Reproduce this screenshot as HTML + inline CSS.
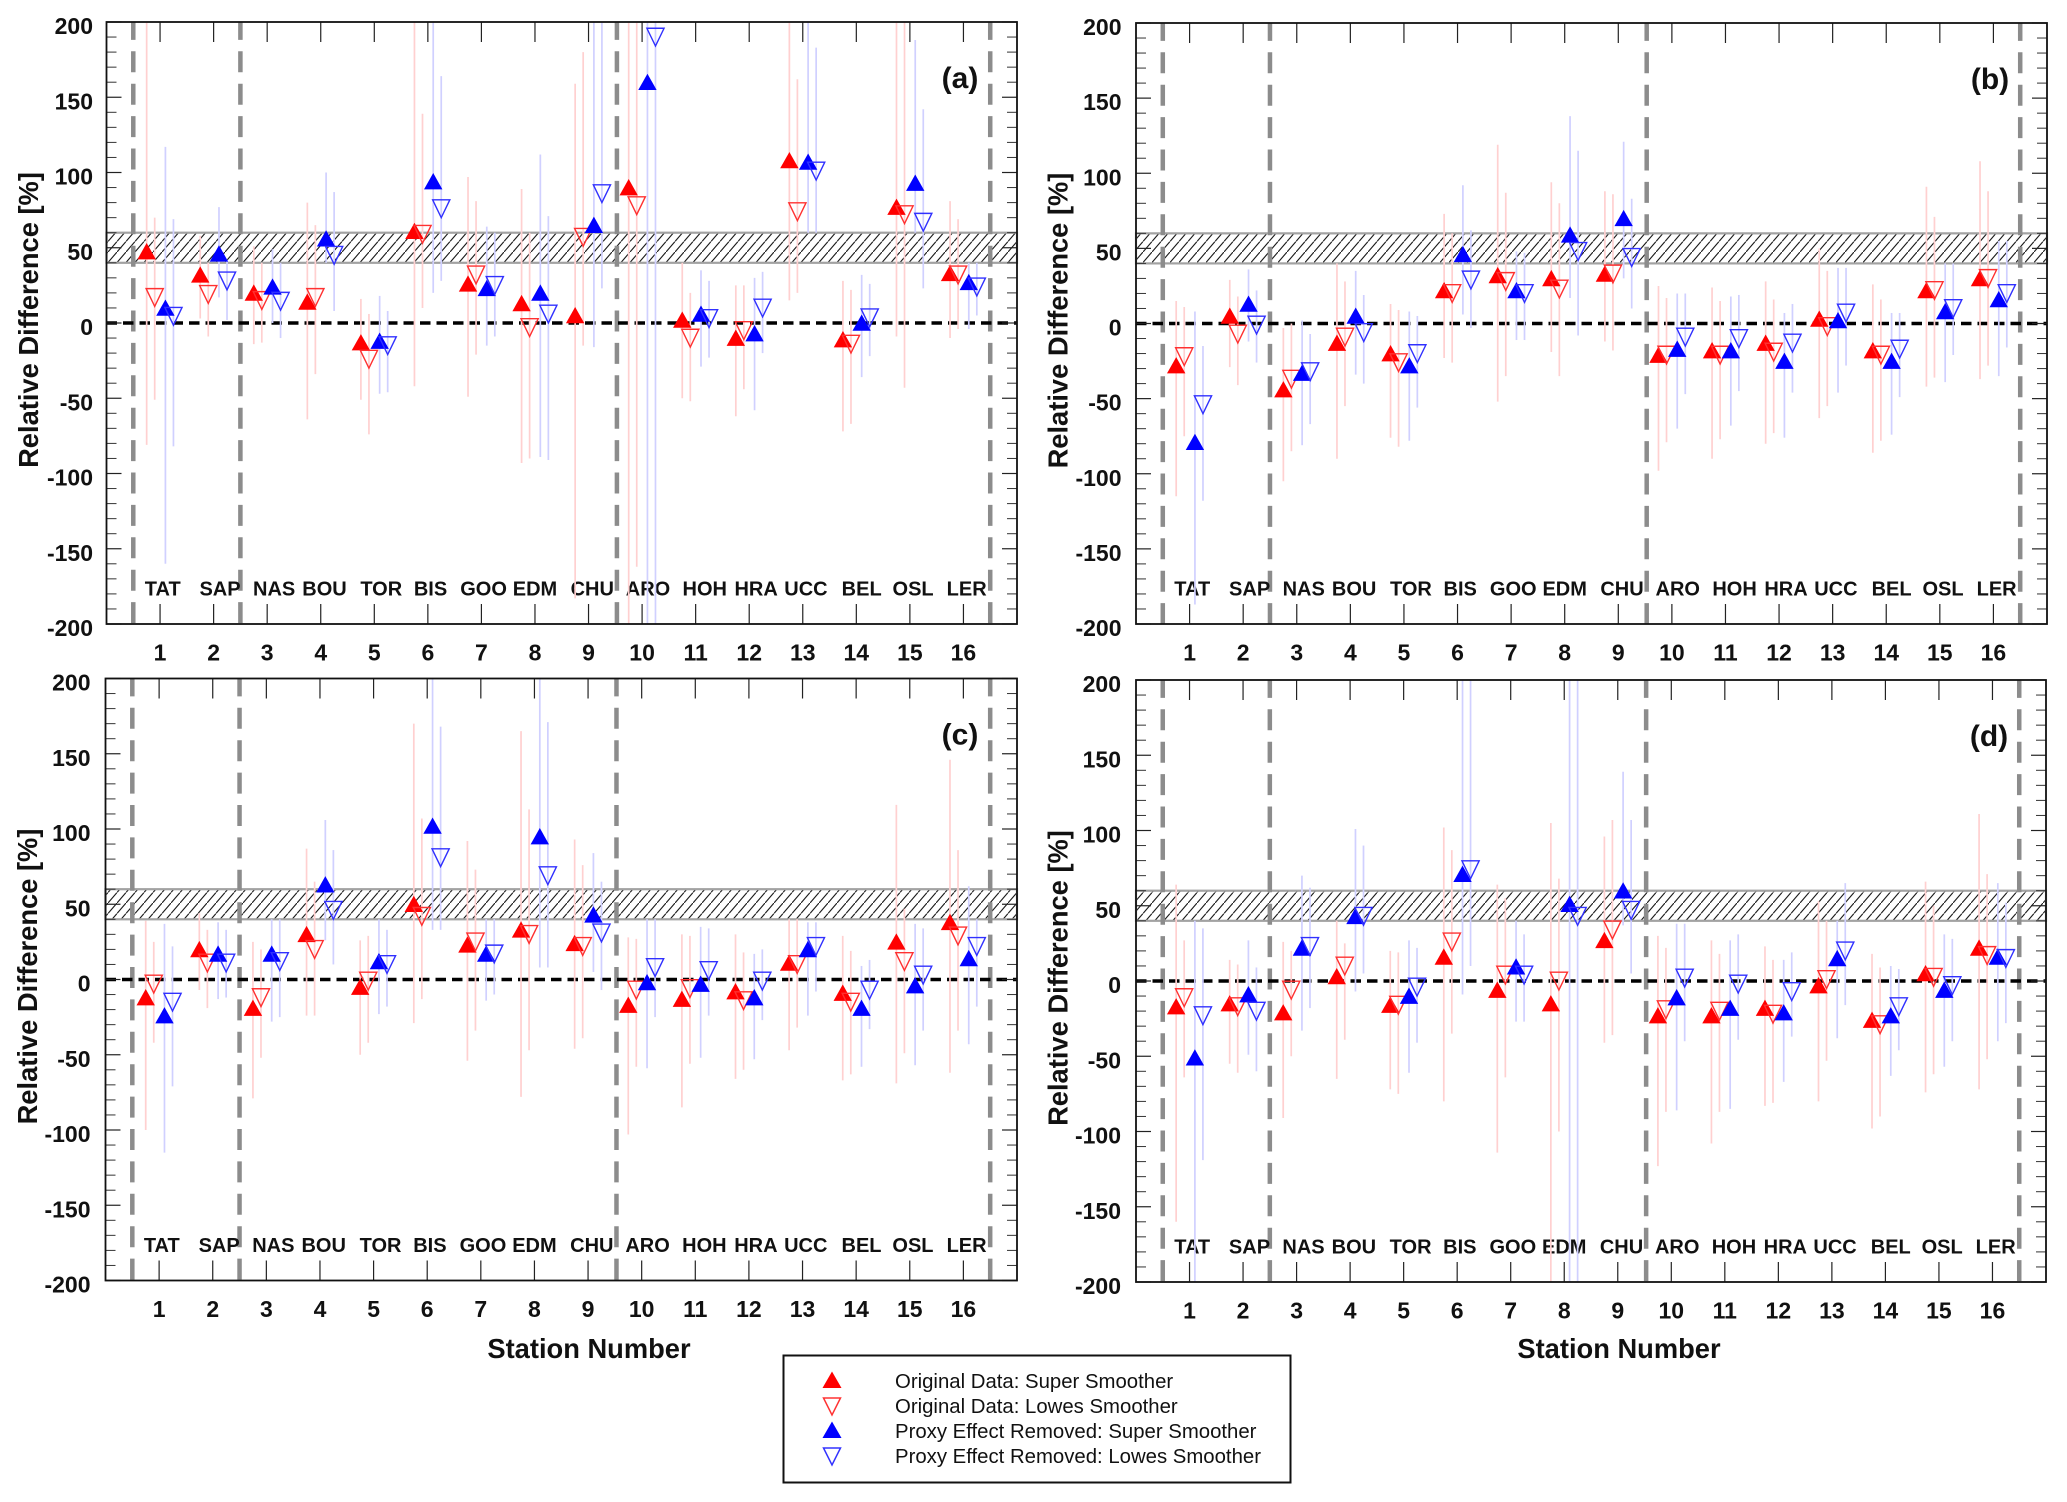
<!DOCTYPE html>
<html lang="en">
<head>
<meta charset="utf-8">
<title>Relative Difference by Station</title>
<style>
html,body{margin:0;padding:0;background:#fff;width:2067px;height:1502px;overflow:hidden}
svg{display:block;font-family:"Liberation Sans",Arial,sans-serif}
</style>
</head>
<body>
<svg id="fig" xmlns="http://www.w3.org/2000/svg" width="2067" height="1502" viewBox="0 0 2067 1502">
  <defs>
    <pattern id="hatch" patternUnits="userSpaceOnUse" width="9" height="10.5">
      <path d="M-1 11.67 L10 -1.17" stroke="#1a1a1a" stroke-width="1.1" fill="none"/>
    </pattern>
  </defs>
  <rect width="2067" height="1502" fill="#fff"/>
  <g id="charts"></g>
  <g>
    <text x="589" y="1358" text-anchor="middle" font-size="27.3" font-weight="bold" fill="#111">Station Number</text>
  </g>
  <g>
    <text x="1619" y="1358" text-anchor="middle" font-size="27.3" font-weight="bold" fill="#111">Station Number</text>
  </g>
  <g>
    <rect x="783.5" y="1355.5" width="507" height="127" fill="#fff" stroke="#111" stroke-width="2"/>
    <g>
      <path d="M832 1371.5 L841.5 1388 L822.5 1388 Z" fill="#ff0000"/>
      <text x="895" y="1388" font-size="20.35" fill="#111">Original Data: Super Smoother</text>
    </g>
    <g>
      <path d="M823.5 1398 L840.5 1398 L832 1415 Z" fill="none" stroke="#ff3333" stroke-width="1.5"/>
      <text x="895" y="1413" font-size="20.35" fill="#111">Original Data: Lowes Smoother</text>
    </g>
    <g>
      <path d="M832 1421.5 L841.5 1438 L822.5 1438 Z" fill="#0000ff"/>
      <text x="895" y="1438" font-size="20.35" fill="#111">Proxy Effect Removed: Super Smoother</text>
    </g>
    <g>
      <path d="M823.5 1448 L840.5 1448 L832 1465 Z" fill="none" stroke="#3333ff" stroke-width="1.5"/>
      <text x="895" y="1463" font-size="20.35" fill="#111">Proxy Effect Removed: Lowes Smoother</text>
    </g>
  </g>
</svg>
<script>
const stationNumbers = [1,2,3,4,5,6,7,8,9,10,11,12,13,14,15,16];
const stationCodes = ["TAT","SAP","NAS","BOU","TOR","BIS","GOO","EDM","CHU","ARO","HOH","HRA","UCC","BEL","OSL","LER"];
const stationCodeX = [1.05,2.12,3.13,4.07,5.13,6.05,7.04,8.0,9.07,10.11,11.17,12.13,13.06,14.1,15.06,16.06];
const yMajorTicks = [-200,-150,-100,-50,0,50,100,150,200];
const yMinorTicks = [-190,-180,-170,-160,-140,-130,-120,-110,-90,-80,-70,-60,-40,-30,-20,-10,10,20,30,40,60,70,80,90,110,120,130,140,160,170,180,190];
const groupBoundaries = [0.5,2.5,9.53,16.5];
const bandRange = [40,60];

/* panel a */
const aOrigSuper = [47.5,32,20,14,-13,61,26,13,5,90,2,-10,108,-11,77,33];
const aOrigSuperHi = [200,58,51,80,16,200,97,89,159,200,40,25,200,28,200,81];
const aOrigSuperLo = [-81,3,-14,-64,-51,-42,-49,-93,-183,-200,-50,-62,15,-72,-9,-10];
const aOrigLowes = [17,19,15,17,-24,59,32,-3,57,78,-10,-5,74,-14,72,32];
const aOrigLowesHi = [70,40,40,65,6,139,81,60,180,200,20,25,162,22,200,69];
const aOrigLowesLo = [-51,-9,-13,-34,-74,10,-21,-90,-15,-162,-52,-44,20,-67,-43,-4];
const aProxySuper = [10,46,24,56,-12,94,23,20,65,160,6,-7,107,0,93,27];
const aProxySuperHi = [117,77,49,100,18,200,64,112,200,200,35,30,200,32,188,40];
const aProxySuperLo = [-160,17,0,40,-47,20,-15,-89,-16,-200,-29,-58,60,-36,60,-4];
const aProxyLowes = [4.5,28,14.5,45,-15,76,25,6,86,190,3,10,101,3.5,67,24];
const aProxyLowesHi = [69,42,40,87,8,164,60,71,200,200,28,34,183,26,142,40];
const aProxyLowesLo = [-82,2,-10,8,-46,28,-9,-91,23,-200,-23,-20,60,-22,23,5];

/* panel b */
const bOrigSuper = [-28,5,-44,-13,-20,22,32,30,33,-21,-18,-13,3,-18,22,30];
const bOrigSuperHi = [15,29,-3,40,13,73,119,94,88,25,24,28,50,26,91,108];
const bOrigSuperLo = [-115,-29,-105,-90,-76,-23,-52,-19,-12,-98,-90,-80,-63,-86,-42,-37];
const bOrigLowes = [-22,-7,-37,-9,-26,20,28,23,33,-21,-21,-19,-2,-21,22,30];
const bOrigLowesHi = [11,18,0,28,9,60,87,80,86,17,15,16,35,16,71,88];
const bOrigLowesLo = [-75,-41,-85,-55,-82,-26,-35,-35,-18,-79,-77,-73,-55,-78,-36,-28];
const bProxySuper = [-79,13,-33,5,-28,46,22,59,70,-17,-18,-25,2,-25,8,16];
const bProxySuperHi = [8,36,2,35,8,92,48,138,121,20,18,7,37,7,40,55];
const bProxySuperLo = [-187,-12,-81,-34,-78,6,-11,17,30,-70,-68,-76,-46,-74,-39,-35];
const bProxyLowes = [-54,-1,-32,-6,-20,29,20,48,44,-9,-10,-13,7,-17,10,20];
const bProxyLowesHi = [-15,22,-7,19,5,62,47,115,83,20,19,13,37,7,40,55];
const bProxyLowesLo = [-118,-26,-67,-40,-56,-3,-11,-8,10,-47,-45,-46,-28,-49,-21,-16];

/* panel c */
const cOrigSuper = [-12,20,-19,30,-5,50,23,33,24,-17,-13,-8,11,-9,25,38];
const cOrigSuperHi = [39,44,25,87,26,170,92,165,93,28,30,30,40,29,116,146];
const cOrigSuperLo = [-100,-7,-79,-24,-50,-29,-54,-78,-46,-103,-85,-66,-47,-67,-69,-62];
const cOrigLowes = [-3,11,-12,20,-1,42,25,30,22,-7,-6,-14,10,-15,12,29];
const cOrigLowesHi = [25,33,20,65,29,107,73,113,76,27,29,18,40,19,47,86];
const cOrigLowesLo = [-42,-19,-52,-24,-42,-13,-34,-47,-39,-58,-56,-60,-32,-63,-49,-34];
const cProxySuper = [-24,17,17,63,12,102,17,95,43,-2,-3,-12,20,-19,-4,14];
const cProxySuperHi = [37,38,40,106,40,200,40,200,84,40,35,17,38,9,37,62];
const cProxySuperLo = [-115,-13,-28,26,-23,33,-14,8,5,-59,-52,-53,-24,-58,-57,-43];
const cProxyLowes = [-15,11,12,46,10,81,17,69,31,8,6,-1,22,-7,3,22];
const cProxyLowesHi = [22,33,40,86,33,168,40,171,65,40,34,20,38,13,34,40];
const cProxyLowesLo = [-71,-12,-25,10,-18,33,-10,8,-7,-25,-24,-27,-8,-33,-34,-18];

/* panel d */
const dOrigSuper = [-17,-15,-21,3,-16,16,-6,-15,27,-23,-23,-18,-3,-26,5,22];
const dOrigSuperHi = [64,14,26,40,20,102,64,105,96,30,27,23,53,18,66,111];
const dOrigSuperLo = [-160,-55,-91,-65,-72,-80,-114,-200,-41,-123,-108,-83,-80,-98,-74,-72];
const dOrigLowes = [-11,-17,-6,10,-16,26,4,0,34,-19,-20,-22,1,-29,2.5,17];
const dOrigLowesHi = [27,11,20,25,19,87,55,68,107,22,18,14,40,9,50,71];
const dOrigLowesLo = [-64,-61,-50,-39,-75,-35,-64,-100,-36,-87,-87,-81,-53,-90,-62,-52];
const dProxySuper = [-51,-9,22,43,-10,71,9.5,51,60,-11,-18,-21,15,-23,-6,16];
const dProxySuperHi = [40,27,70,101,27,200,40,200,139,38,27,14,40,10,31,65];
const dProxySuperLo = [-200,-49,-33,-7,-61,-9,-27,-200,37,-86,-85,-67,-38,-63,-57,-40];
const dProxyLowes = [-23,-20,23,43,-4,74,4,43,47,2,-2,-7,20,-17,-3,15];
const dProxyLowesHi = [35,9,62,90,22,200,31,200,107,38,31,19,65,8,28,52];
const dProxyLowesLo = [-119,-60,-18,5,-41,10,-27,-200,5,-40,-39,-37,-16,-46,-40,-28];

const panels = [
  {id:"a",left:106.5,right:1017,top:22,bottom:624,labelGap:13.5,
   series:[[aOrigSuper,aOrigSuperHi,aOrigSuperLo],[aOrigLowes,aOrigLowesHi,aOrigLowesLo],[aProxySuper,aProxySuperHi,aProxySuperLo],[aProxyLowes,aProxyLowesHi,aProxyLowesLo]]},
  {id:"b",left:1136,right:2047,top:23,bottom:624,labelGap:14.5,
   series:[[bOrigSuper,bOrigSuperHi,bOrigSuperLo],[bOrigLowes,bOrigLowesHi,bOrigLowesLo],[bProxySuper,bProxySuperHi,bProxySuperLo],[bProxyLowes,bProxyLowesHi,bProxyLowesLo]]},
  {id:"c",left:105.5,right:1017,top:678.5,bottom:1280.5,labelGap:15,
   series:[[cOrigSuper,cOrigSuperHi,cOrigSuperLo],[cOrigLowes,cOrigLowesHi,cOrigLowesLo],[cProxySuper,cProxySuperHi,cProxySuperLo],[cProxyLowes,cProxyLowesHi,cProxyLowesLo]]},
  {id:"d",left:1136,right:2046,top:680,bottom:1282,labelGap:15,
   series:[[dOrigSuper,dOrigSuperHi,dOrigSuperLo],[dOrigLowes,dOrigLowesHi,dOrigLowesLo],[dProxySuper,dProxySuperHi,dProxySuperLo],[dProxyLowes,dProxyLowesHi,dProxyLowesLo]]}
];

const seriesKeys = ["original-super","original-lowes","proxy-super","proxy-lowes"];
const seriesOffsets = [-0.25,-0.1,0.1,0.25];
const NS = "http://www.w3.org/2000/svg";

function make(tag, attrs, parent){
  const e = document.createElementNS(NS, tag);
  for (const k in attrs) e.setAttribute(k, attrs[k]);
  parent.appendChild(e);
  return e;
}

const root = document.getElementById("charts");

panels.forEach(function(p){
  const xScale = function(v){ return p.left + v * (p.right - p.left) / 17; };
  const yScale = function(v){ return p.bottom - (v + 200) * (p.bottom - p.top) / 400; };

  const g = make("g", {}, root);
  
  

  // hatched reference band
  const band = make("rect", {x:p.left, y:yScale(bandRange[1]), width:p.right-p.left, height:yScale(bandRange[0])-yScale(bandRange[1]), fill:"url(#hatch)", stroke:"#a2a2a2", "stroke-width":2.2}, g);
  
  

  // group boundaries
  groupBoundaries.forEach(function(b){
    const line = make("line", {x1:xScale(b), x2:xScale(b), y1:p.top, y2:p.bottom, stroke:"#8c8c8c", "stroke-width":4.5, "stroke-dasharray":"21 11.4", "stroke-dashoffset":3.1}, g);
    
    
  });

  // zero line
  const zero = make("line", {x1:p.left, x2:p.right, y1:yScale(0), y2:yScale(0), stroke:"#000", "stroke-width":3.6, "stroke-dasharray":"10.5 6"}, g);
  
  

  // y ticks
  yMajorTicks.forEach(function(v){
    const y = yScale(v);
    const t1 = make("line", {x1:p.left, x2:p.left+15, y1:y, y2:y, stroke:"#222", "stroke-width":1.2}, g);
    
    
    const t2 = make("line", {x1:p.right-15, x2:p.right, y1:y, y2:y, stroke:"#222", "stroke-width":1.2}, g);
    
    
    const lbl = make("text", {x:p.left-p.labelGap, y:y+12, "text-anchor":"end", "font-size":23, "font-weight":"bold", fill:"#111"}, g);
    lbl.textContent = String(v);
    
    
  });
  yMinorTicks.forEach(function(v){
    const y = yScale(v);
    const t1 = make("line", {x1:p.left, x2:p.left+10, y1:y, y2:y, stroke:"#333", "stroke-width":1}, g);
    
    
    const t2 = make("line", {x1:p.right-10, x2:p.right, y1:y, y2:y, stroke:"#333", "stroke-width":1}, g);
    
    
  });

  // x ticks and labels
  stationNumbers.forEach(function(n, i){
    const x = xScale(n);
    const t1 = make("line", {x1:x, x2:x, y1:p.bottom, y2:p.bottom-20, stroke:"#222", "stroke-width":1.2}, g);
    
    
    const t2 = make("line", {x1:x, x2:x, y1:p.top, y2:p.top+20, stroke:"#222", "stroke-width":1.2}, g);
    
    
    const lbl = make("text", {x:x, y:p.bottom+36.5, "text-anchor":"middle", "font-size":23, "font-weight":"bold", fill:"#111"}, g);
    lbl.textContent = String(n);
    
    
    const code = make("text", {x:xScale(stationCodeX[i]), y:yScale(-181), "text-anchor":"middle", "font-size":20, "font-weight":"bold", fill:"#111"}, g);
    code.textContent = stationCodes[i];
    
    
  });

  // error bars
  p.series.forEach(function(s, si){
    const isRed = si < 2;
    stationNumbers.forEach(function(n, i){
      const x = xScale(n + seriesOffsets[si]);
      const bar = make("line", {x1:x, x2:x, y1:yScale(s[1][i]), y2:yScale(s[2][i]), stroke:isRed ? "#ffd0d0" : "#d0d0ff", "stroke-width":1.7}, g);
      
      
    });
  });

  // markers
  p.series.forEach(function(s, si){
    const isRed = si < 2;
    const isFilled = si % 2 === 0;
    stationNumbers.forEach(function(n, i){
      const x = xScale(n + seriesOffsets[si]);
      const y = yScale(s[0][i]);
      let mark;
      if (isFilled) {
        mark = make("path", {d:"M"+x+" "+(y-8.5)+" L"+(x+9.2)+" "+(y+7.8)+" L"+(x-9.2)+" "+(y+7.8)+" Z", fill:isRed ? "#ff0000" : "#0000ff"}, g);
      } else {
        mark = make("path", {d:"M"+(x-8.6)+" "+(y-8.8)+" L"+(x+8.6)+" "+(y-8.8)+" L"+x+" "+(y+9)+" Z", fill:"none", stroke:isRed ? "#ff3030" : "#3030ff", "stroke-width":1.4}, g);
      }
      
      
    });
  });

  // frame
  const frame = make("rect", {x:p.left, y:p.top, width:p.right-p.left, height:p.bottom-p.top, fill:"none", stroke:"#111", "stroke-width":1.8}, g);
  
  

  // panel letter
  const letter = make("text", {x:p.right-57, y:p.top+66, "text-anchor":"middle", "font-size":30, "font-weight":"bold", fill:"#111"}, g);
  letter.textContent = "(" + p.id + ")";
  
  

  // y axis title
  const cx = p.left - 68.5;
  const cy = (p.top + p.bottom) / 2 - 3;
  const title = make("text", {x:cx, y:cy, transform:"rotate(-90 "+cx+" "+cy+")", "text-anchor":"middle", "font-size":27.3, "font-weight":"bold", fill:"#111"}, g);
  title.textContent = "Relative Difference [%]";
  
  
});
</script>
</body>
</html>
